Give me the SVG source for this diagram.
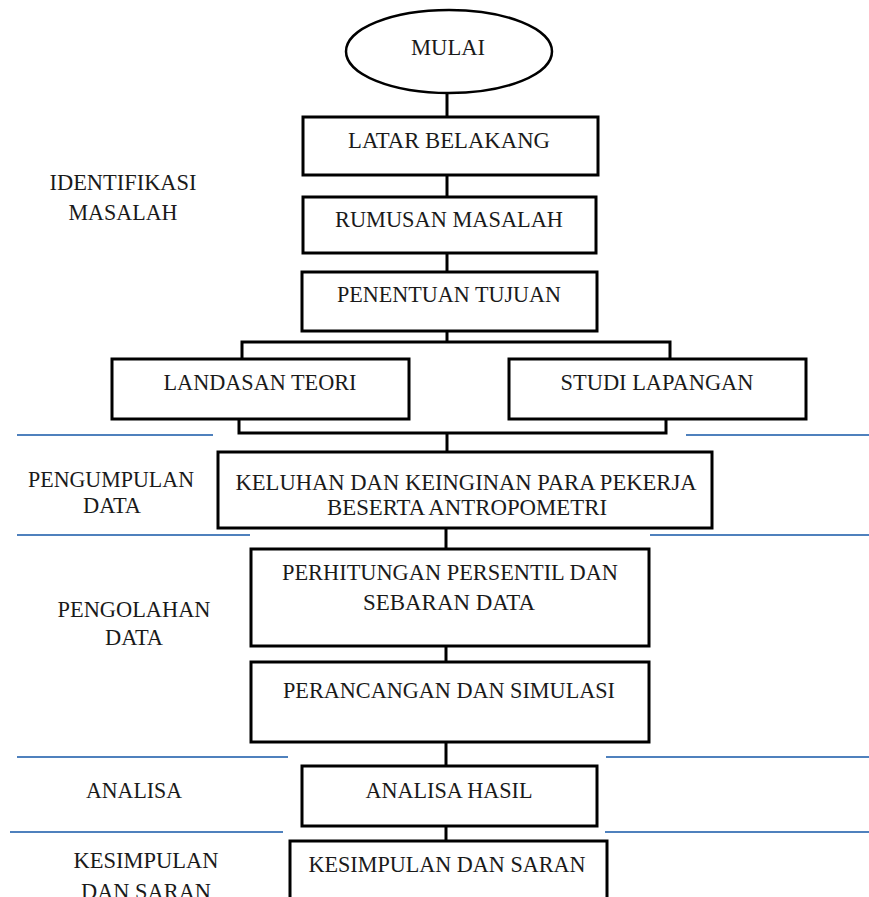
<svg xmlns="http://www.w3.org/2000/svg" width="869" height="897" viewBox="0 0 869 897">
<style>
.box{fill:#fff;stroke:#000;stroke-width:3}
.t{font-family:"Liberation Serif","Times New Roman",serif;font-size:24px;fill:#1a1a1a;text-anchor:middle}
.c{fill:none;stroke:#000;stroke-width:3}
.sep{stroke:#4f81bd;stroke-width:2}
</style>
<rect width="869" height="897" fill="#fff"/>
<g id="separators">
<line class="sep" x1="17" y1="435" x2="213" y2="435"/>
<line class="sep" x1="686" y1="435" x2="869" y2="435"/>
<line class="sep" x1="17" y1="535" x2="250" y2="535"/>
<line class="sep" x1="650" y1="535" x2="869" y2="535"/>
<line class="sep" x1="17" y1="757" x2="288" y2="757"/>
<line class="sep" x1="606" y1="757" x2="869" y2="757"/>
<line class="sep" x1="10" y1="832" x2="283" y2="832"/>
<line class="sep" x1="605" y1="832" x2="869" y2="832"/>
</g>
<g id="connectors">
<line class="c" x1="447" y1="93" x2="447" y2="117"/>
<line class="c" x1="447" y1="175" x2="447" y2="197"/>
<line class="c" x1="447" y1="253" x2="447" y2="272"/>
<line class="c" x1="447" y1="331" x2="447" y2="342"/>
<polyline class="c" points="242,359 242,342 670,342 670,359"/>
<polyline class="c" points="239,419 239,433 666,433 666,419"/>
<line class="c" x1="447" y1="433" x2="447" y2="452"/>
<line class="c" x1="446" y1="528" x2="446" y2="549"/>
<line class="c" x1="446" y1="646" x2="446" y2="662"/>
<line class="c" x1="446" y1="742" x2="446" y2="766"/>
<line class="c" x1="446" y1="826" x2="446" y2="841"/>
</g>
<g id="labels">
<text class="t" x="123" y="190" textLength="147" lengthAdjust="spacingAndGlyphs">IDENTIFIKASI</text>
<text class="t" x="123" y="220" textLength="109" lengthAdjust="spacingAndGlyphs">MASALAH</text>
<text class="t" x="111" y="487" textLength="166" lengthAdjust="spacingAndGlyphs">PENGUMPULAN</text>
<text class="t" x="112" y="513" textLength="58" lengthAdjust="spacingAndGlyphs">DATA</text>
<text class="t" x="134" y="617" textLength="153" lengthAdjust="spacingAndGlyphs">PENGOLAHAN</text>
<text class="t" x="134" y="645" textLength="58" lengthAdjust="spacingAndGlyphs">DATA</text>
<text class="t" x="134" y="798" textLength="96" lengthAdjust="spacingAndGlyphs">ANALISA</text>
<text class="t" x="146" y="868" textLength="145" lengthAdjust="spacingAndGlyphs">KESIMPULAN</text>
<text class="t" x="146" y="899" textLength="130" lengthAdjust="spacingAndGlyphs">DAN SARAN</text>
</g>
<g id="mulai">
<ellipse cx="449" cy="51.5" rx="103" ry="41.5" fill="#fff" stroke="#000" stroke-width="2.5"/>
<text class="t" x="448" y="55" textLength="74" lengthAdjust="spacingAndGlyphs">MULAI</text>
</g>
<g id="latar-belakang">
<rect class="box" x="303" y="117" width="295" height="58"/>
<text class="t" x="449" y="148" textLength="202" lengthAdjust="spacingAndGlyphs">LATAR BELAKANG</text>
</g>
<g id="rumusan-masalah">
<rect class="box" x="303" y="197" width="293" height="56"/>
<text class="t" x="449" y="227" textLength="228" lengthAdjust="spacingAndGlyphs">RUMUSAN MASALAH</text>
</g>
<g id="penentuan-tujuan">
<rect class="box" x="302" y="272" width="295" height="59"/>
<text class="t" x="449" y="302" textLength="224" lengthAdjust="spacingAndGlyphs">PENENTUAN TUJUAN</text>
</g>
<g id="landasan-teori">
<rect class="box" x="112" y="359" width="297" height="60"/>
<text class="t" x="260" y="390" textLength="193" lengthAdjust="spacingAndGlyphs">LANDASAN TEORI</text>
</g>
<g id="studi-lapangan">
<rect class="box" x="509" y="359" width="297" height="60"/>
<text class="t" x="657" y="390" textLength="193" lengthAdjust="spacingAndGlyphs">STUDI LAPANGAN</text>
</g>
<g id="keluhan">
<rect class="box" x="218" y="452" width="494" height="76"/>
<text class="t" x="466" y="490" textLength="461" lengthAdjust="spacingAndGlyphs">KELUHAN DAN KEINGINAN PARA PEKERJA</text>
<text class="t" x="467" y="515" textLength="280" lengthAdjust="spacingAndGlyphs">BESERTA ANTROPOMETRI</text>
</g>
<g id="perhitungan">
<rect class="box" x="251" y="549" width="398" height="97"/>
<text class="t" x="450" y="580" textLength="336" lengthAdjust="spacingAndGlyphs">PERHITUNGAN PERSENTIL DAN</text>
<text class="t" x="449" y="610" textLength="172" lengthAdjust="spacingAndGlyphs">SEBARAN DATA</text>
</g>
<g id="perancangan">
<rect class="box" x="251" y="662" width="398" height="80"/>
<text class="t" x="449" y="698" textLength="332" lengthAdjust="spacingAndGlyphs">PERANCANGAN DAN SIMULASI</text>
</g>
<g id="analisa-hasil">
<rect class="box" x="302" y="766" width="295" height="60"/>
<text class="t" x="449" y="798" textLength="167" lengthAdjust="spacingAndGlyphs">ANALISA HASIL</text>
</g>
<g id="kesimpulan">
<rect class="box" x="290" y="841" width="317" height="80"/>
<text class="t" x="447" y="872" textLength="277" lengthAdjust="spacingAndGlyphs">KESIMPULAN DAN SARAN</text>
</g>
</svg>
